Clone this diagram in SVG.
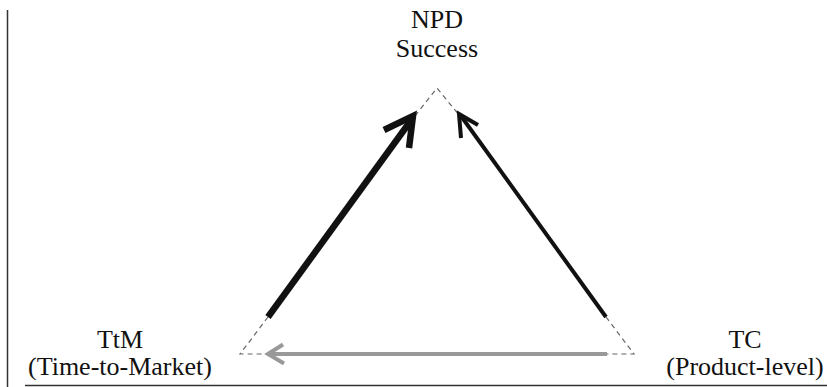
<svg xmlns="http://www.w3.org/2000/svg" width="827" height="387" viewBox="0 0 827 387">
<style>
  .lbl { font-family: "Liberation Serif", "Times New Roman", serif; font-size: 26px; fill: #111; text-anchor: middle; }
  .dash { stroke: #666; stroke-width: 1.2; stroke-dasharray: 5 4; fill: none; }
  .thick { stroke: #111; fill: none; stroke-linecap: butt; stroke-linejoin: miter; }
  .gray { stroke: #999; fill: none; stroke-width: 4; }
  .frame { stroke: #333; stroke-width: 1.5; fill: none; }
</style>
<rect width="827" height="387" fill="#fff"/>
<g id="frame">
  <line class="frame" x1="7.5" y1="10" x2="7.5" y2="387"/>
  <line class="frame" x1="25" y1="385.5" x2="827" y2="385.5"/>
</g>
<g id="npd">
  <text class="lbl" x="437" y="28">NPD</text>
  <text class="lbl" x="437" y="57">Success</text>
</g>
<g id="ttm">
  <text class="lbl" x="120" y="348">TtM</text>
  <text class="lbl" x="120" y="375">(Time-to-Market)</text>
</g>
<g id="tc">
  <text class="lbl" x="745" y="348">TC</text>
  <text class="lbl" x="745" y="375">(Product-level)</text>
</g>
<g id="connectors">
  <path class="dash" d="M415,116 L437,88 L459,115"/>
  <path class="dash" d="M268,317 L240,354 L267,354"/>
  <path class="dash" d="M606,317 L634,354 L607,354"/>
  <line class="thick" x1="268" y1="317" x2="412" y2="119" stroke-width="6.5"/>
  <path class="thick" d="M384,130 L413,116 L409,148" stroke-width="6.5"/>
  <line class="thick" x1="606" y1="317" x2="461" y2="116" stroke-width="4"/>
  <path class="thick" d="M478,125 L459,114 L461,138" stroke-width="4"/>
  <line class="gray" x1="607" y1="354" x2="269" y2="354"/>
  <path class="gray" d="M283,344.5 L268,354 L284,363.5"/>
</g>
</svg>
